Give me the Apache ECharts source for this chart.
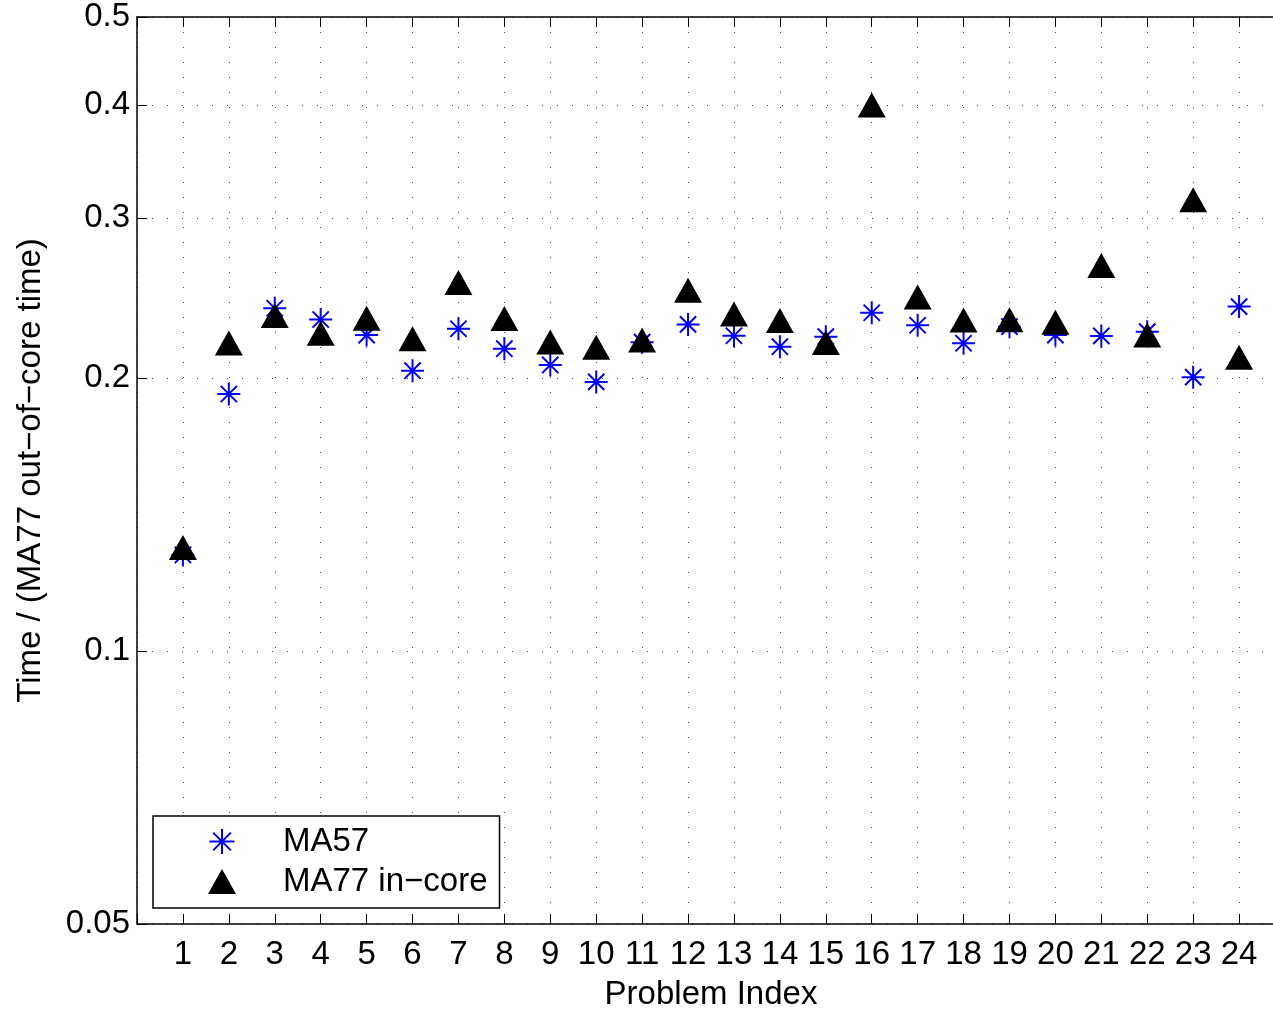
<!DOCTYPE html>
<html>
<head>
<meta charset="utf-8">
<script src="https://cdn.jsdelivr.net/npm/echarts@6/dist/echarts.min.js"></script>
<style>
  html, body { margin: 0; padding: 0; background: #fff; }
  #chart { width: 1273px; height: 1010px; }
</style>
</head>
<body>
<div id="chart"></div>
<script>
// problem index 1..24
var problems = [1, 2, 3, 4, 5, 6, 7, 8, 9, 10, 11, 12, 13, 14, 15, 16, 17, 18, 19, 20, 21, 22, 23, 24];
// time relative to MA77 out-of-core
var ma57 = [0.1276, 0.192, 0.2387, 0.232, 0.223, 0.2037, 0.2266, 0.2154, 0.2067, 0.198, 0.219, 0.2291,
            0.2226, 0.2165, 0.2221, 0.236, 0.2286, 0.2184, 0.2278, 0.223, 0.2225, 0.2249, 0.2004, 0.2397];
var ma77InCore = [0.130, 0.2186, 0.2344, 0.224, 0.2327, 0.2209, 0.2548, 0.2325, 0.2191, 0.2162, 0.2202, 0.2499,
                  0.2352, 0.2314, 0.2188, 0.400, 0.2456, 0.2317, 0.2318, 0.2304, 0.2661, 0.2230, 0.3144, 0.2108];
var yTicks = [0.05, 0.1, 0.2, 0.3, 0.4, 0.5];

var chart = echarts.init(document.getElementById("chart"));

var font = "'Liberation Sans', Arial, Helvetica, sans-serif";
var fs = 33;
var asterisk = "path://M0,-10L0,10M-10,0L10,0M-7.07,-7.07L7.07,7.07M-7.07,7.07L7.07,-7.07";
var gridDots = { show: true, lineStyle: { color: "#444", width: 1, type: [1, 14] } };

function pairs(vals) {
  return problems.map(function (p, i) { return [p, vals[i]]; });
}

var option = {
  backgroundColor: "#fff",
  animation: false,
  textStyle: { fontFamily: font },
  grid: { left: 137, top: 17, right: -12, bottom: 86, outerBoundsMode: "none", containLabel: false },
  xAxis: [
    {
      type: "value",
      min: 0,
      max: 25,
      interval: 1,
      name: "Problem Index",
      nameLocation: "middle",
      nameGap: 54,
      nameTextStyle: { fontSize: fs, color: "#000", fontFamily: font },
      axisLine: { lineStyle: { color: "#000", width: 1.5 } },
      axisTick: { inside: true, length: 10, lineStyle: { color: "#000", width: 1 } },
      axisLabel: {
        fontSize: fs, color: "#000", margin: 14, fontFamily: font,
        formatter: function (v) { return (v >= 1 && v <= 24) ? String(v) : ""; }
      },
      splitLine: gridDots
    },
    {
      // top border with ticks
      type: "value",
      position: "top",
      min: 0,
      max: 25,
      interval: 1,
      axisLine: { show: true, lineStyle: { color: "#000", width: 1.5 } },
      axisTick: { inside: true, length: 10, lineStyle: { color: "#000", width: 1 } },
      axisLabel: { show: false },
      splitLine: { show: false }
    }
  ],
  yAxis: {
    type: "log",
    logBase: 10,
    min: 0.05,
    max: 0.5,
    name: "Time / (MA77 out\u2212of\u2212core time)",
    nameLocation: "middle",
    nameGap: 90,
    nameTextStyle: { fontSize: fs, color: "#000", fontFamily: font },
    axisLine: { show: true, lineStyle: { color: "#000", width: 1.5 } },
    axisTick: { show: true, inside: true, length: 10, customValues: yTicks, lineStyle: { color: "#000", width: 1 } },
    axisLabel: {
      fontSize: fs, color: "#000", margin: 7, fontFamily: font, customValues: yTicks,
      formatter: function (v) { return String(+v.toPrecision(2)); }
    },
    minorTick: { show: false },
    splitLine: gridDots
  },
  legend: {
    orient: "vertical",
    left: 153,
    top: 816,
    padding: [9, 12, 10, 55],
    itemWidth: 28,
    itemHeight: 25,
    itemGap: 7,
    backgroundColor: "#fff",
    borderColor: "#000",
    borderWidth: 1.5,
    borderRadius: 0,
    textStyle: { fontSize: fs, color: "#000", lineHeight: 33, fontFamily: font, padding: [0, 0, 0, 42] },
    data: ["MA57", "MA77 in\u2212core"]
  },
  series: [
    {
      name: "MA57",
      type: "scatter",
      symbol: asterisk,
      symbolSize: 23,
      itemStyle: { color: "#0000ff", borderColor: "#0000ff", borderWidth: 2, opacity: 1 },
      data: pairs(ma57),
      z: 2
    },
    {
      name: "MA77 in\u2212core",
      type: "scatter",
      symbol: "triangle",
      symbolSize: [28, 25],
      itemStyle: { color: "#000", opacity: 1 },
      data: pairs(ma77InCore),
      z: 3
    }
  ]
};

chart.setOption(option);
</script>
</body>
</html>
